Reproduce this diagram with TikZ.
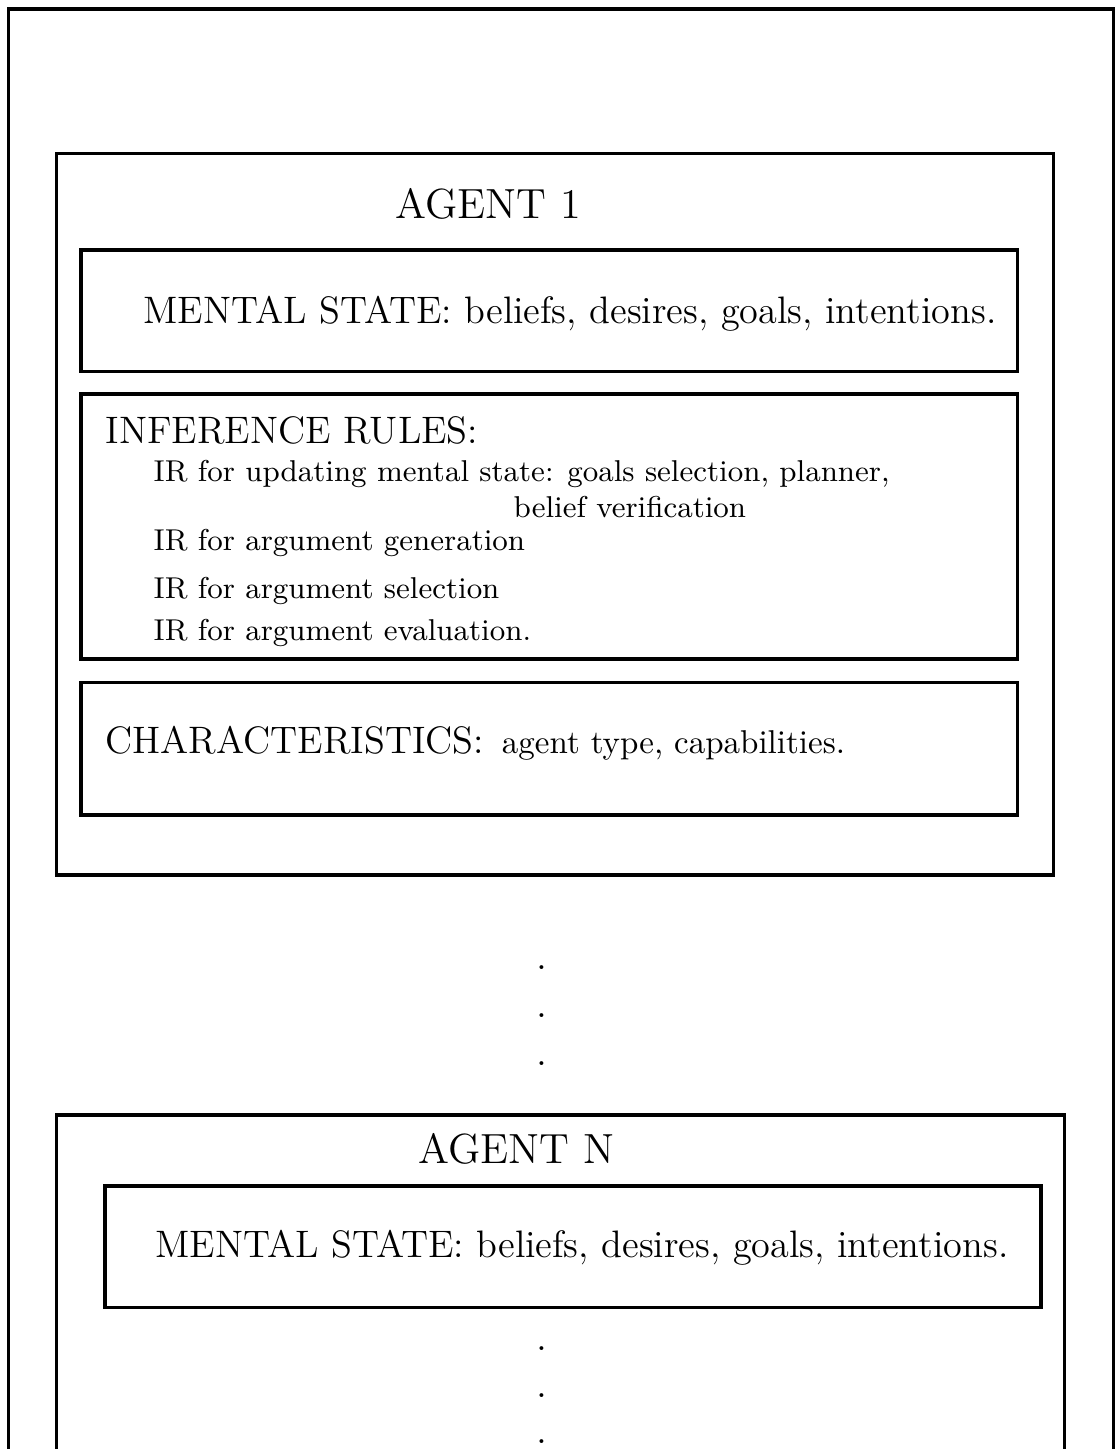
\documentclass[tikz,border=0pt]{standalone}
\usepackage{fix-cm}
\begin{document}
\begin{tikzpicture}[x=0.3pt,y=-0.3pt,
  box/.style={draw,line width=1pt},
  txt/.style={inner sep=0pt,anchor=base west},
  fbig/.style={font=\fontsize{12.65}{15}\selectfont},
  fmid/.style={font=\fontsize{11.48}{14}\selectfont},
  fsmall/.style={font=\fontsize{9.04}{11}\selectfont},
  ftiny/.style={font=\fontsize{9.9}{12}\selectfont},
  dotnode/.style={inner sep=0pt,anchor=base,font=\fontsize{12}{14}\selectfont}]
\useasboundingbox (0,0) rectangle (1119,1449);
% outer frame (open at bottom)
\draw[box] (8.5,1449) -- (8.5,9) -- (1113.5,9) -- (1113.5,1449);
% agent 1
\draw[box] (56.5,153.5) rectangle (1053.5,875);
\node[txt,fbig] (a1) at (395,218) {AGENT 1};
\draw[box] (81,250) rectangle (1017.7,371.7);
\node[txt,fmid] (ms1) at (143,323) {MENTAL STATE: beliefs, desires, goals, intentions.};
\draw[box] (81,394) rectangle (1017.7,659);
\node[txt,fmid] (ir) at (105,443) {INFERENCE RULES:};
\node[txt,fsmall] (ir1) at (153,481.7) {IR for updating mental state: goals selection, planner,};
\node[txt,fsmall] (ir1b) at (513,517) {belief verification};
\node[txt,fsmall] (ir2) at (153,550) {IR for argument generation};
\node[txt,fsmall] (ir3) at (153,598.3) {IR for argument selection};
\node[txt,fsmall] (ir4) at (153,640) {IR for argument evaluation.};
\draw[box] (81,682.3) rectangle (1017.7,815);
\node[txt,fmid] (ch) at (105,753) {CHARACTERISTICS:};
\node[txt,ftiny] (ch2) at ([xshift=5pt]ch.base east) {agent type, capabilities.};
% dots
\node[dotnode] (d1) at (542,969) {.};
\node[dotnode] (d2) at (542,1017) {.};
\node[dotnode] (d3) at (542,1065) {.};
% agent N
\draw[box] (56.5,1449) -- (56.5,1115) -- (1064.5,1115) -- (1064.5,1449);
\node[txt,fbig] (an) at (418,1163) {AGENT N};
\draw[box] (105,1186) rectangle (1041,1307.3);
\node[txt,fmid] (msn) at (155,1257) {MENTAL STATE: beliefs, desires, goals, intentions.};
\node[dotnode] (d4) at (542,1350) {.};
\node[dotnode] (d5) at (542,1397) {.};
\node[dotnode] (d6) at (542,1443) {.};
\end{tikzpicture}
\end{document}
